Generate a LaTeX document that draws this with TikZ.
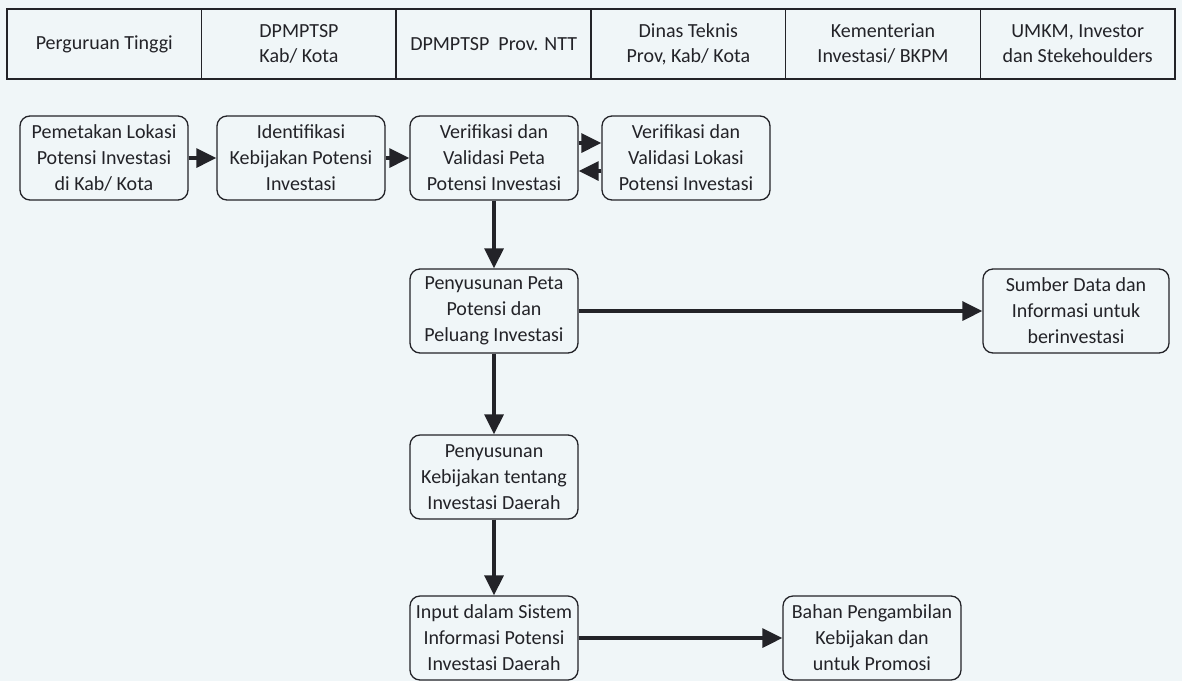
\documentclass[tikz,border=0pt]{standalone}
\usepackage{fontspec}
\setmainfont{Carlito}
\usetikzlibrary{arrows.meta}
\definecolor{paper}{RGB}{240,246,248}
\definecolor{ink}{RGB}{35,35,40}

\begin{document}
\begin{tikzpicture}[x=1pt, y=-1pt, ink,
  lane/.style = {draw, line width=1.6pt, minimum width=194.7pt, minimum height=70pt, inner sep=0pt, align=center, font=\fontsize{20}{25}\selectfont},
  box/.style = {draw, line width=1.3pt, rounded corners=10pt, minimum width=#1, minimum height=84pt, inner sep=0pt, align=center, font=\fontsize{20}{26}\selectfont},
  box/.default = 168pt,
  flow/.style = {line width=3.2pt, -{Triangle[length=20pt, width=19pt]}}]

\fill[paper] (0,0) rectangle (1182,681);
\useasboundingbox (0,0) rectangle (1182,681);

% Header
\foreach \i/\txt in {0/{Perguruan Tinggi}, 1/{DPMPTSP\\Kab/ Kota}, 2/{DPMPTSP\ \ Prov. NTT},
    3/{Dinas Teknis\\Prov, Kab/ Kota}, 4/{Kementerian\\Investasi/ BKPM}, 5/{UMKM, Investor\\dan Stekehoulders}} {
  \node[lane] (h\i) at (104.3+194.67*\i, 44) {\txt};
}

% Boxes
\node[box] (pemetakan) at (104, 158) {Pemetakan Lokasi\\Potensi Investasi\\di Kab/ Kota};
\node[box] (identifikasi) at (301, 158) {Identifikasi\\Kebijakan Potensi\\Investasi};
\node[box] (verPeta) at (494, 158) {Verifikasi dan\\Validasi Peta\\Potensi Investasi};
\node[box] (verLokasi) at (686, 158) {Verifikasi dan\\Validasi Lokasi\\Potensi Investasi};
\node[box] (peta) at (494, 311) {Penyusunan Peta\\Potensi dan\\Peluang Investasi};
\node[box=186pt] (sumber) at (1076, 311) {Sumber Data dan\\Informasi untuk\\berinvestasi};
\node[box] (kebijakan) at (494, 477) {Penyusunan\\Kebijakan tentang\\Investasi Daerah};
\node[box] (input) at (494, 638) {Input dalam Sistem\\Informasi Potensi\\Investasi Daerah};
\node[box=178pt] (bahan) at (872, 638) {Bahan Pengambilan\\Kebijakan dan\\untuk Promosi};

% Arrows
\draw[flow] (pemetakan) -- (identifikasi);
\draw[flow] (identifikasi) -- (verPeta);
\draw[flow] ([yshift=15pt]verPeta.east) -- ([yshift=15pt]verLokasi.west);
\draw[flow] ([yshift=-13pt]verLokasi.west) -- ([yshift=-13pt]verPeta.east);
\draw[flow] (verPeta) -- (peta);
\draw[flow] (peta) -- (sumber);
\draw[flow] (peta) -- (kebijakan);
\draw[flow] (kebijakan) -- (input);
\draw[flow] (input) -- (bahan);

\end{tikzpicture}
\end{document}
